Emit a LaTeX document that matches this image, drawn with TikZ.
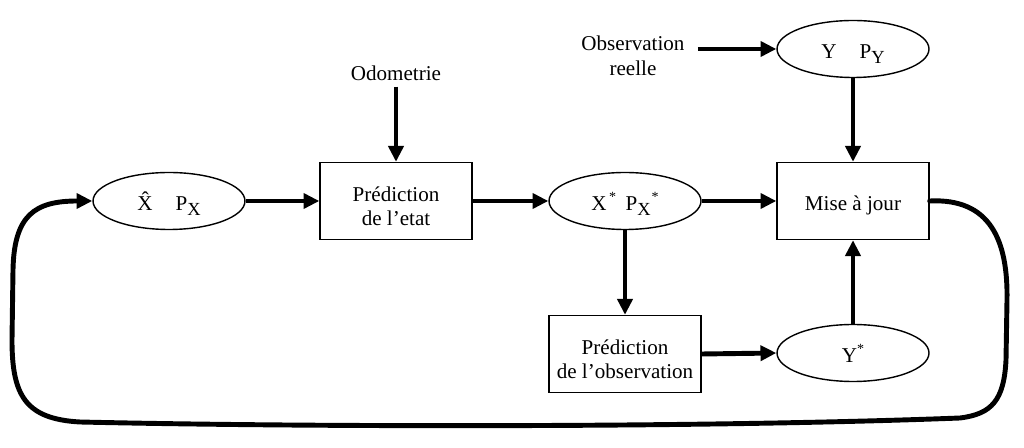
\documentclass[tikz,border=0pt]{standalone}
\usepackage{fontspec}
\setmainfont{Liberation Serif}
\usetikzlibrary{shapes.geometric,arrows.meta}
\newcommand\lowsub[1]{\raisebox{-0.55ex}{\fontsize{10.5}{10}\selectfont #1}}
\newcommand\hisup[1]{\raisebox{0.9ex}{\fontsize{8}{8}\selectfont #1}}
\begin{document}
\begin{tikzpicture}[x=0.02cm,y=-0.02cm,
  font=\fontsize{12}{14}\selectfont,
  ell/.style={draw, line width=0.8pt, ellipse, minimum width=3.04cm, minimum height=1.14cm, inner sep=0pt, text height=11pt, text depth=0pt},
  box/.style={draw, line width=0.8pt, rectangle, minimum width=3.04cm, minimum height=1.54cm, align=center, inner sep=0pt},
  twoline/.style={text height=28.4pt, text depth=0pt},
  oneline/.style={text height=11pt, text depth=0pt},
  arr/.style={line width=2.8pt, -{Triangle[length=9pt,width=8.5pt]}},
  loop/.style={line width=2.8pt, line cap=round, line join=round, -{Triangle[length=9pt,width=8.5pt]}}]
\useasboundingbox (0,0) rectangle (1024,448);

\node[ell] (xh) at (169,201) {\^{X}\hspace{1.1em}P\lowsub{X}};
\node[box, twoline] (pe) at (396,201) {Prédiction\\de l’etat};
\node[ell] (xs) at (625,201) {X\hspace{0.12em}\hisup{*}\hspace{0.45em}P\lowsub{X}\hspace{0.05em}\hisup{*}};
\node[box, oneline] (mj) at (853,201) {Mise à jour};
\node[ell] (y) at (853,49) {Y\hspace{1.1em}P\lowsub{Y}};
\node[box, twoline] (po) at (625,354) {Prédiction\\de l’observation};
\node[ell] (ys) at (853,353) {Y\hisup{*}};
\node (odo) at (396,73) {Odometrie};
\node[align=center] (obs) at (633,56) {Observation\\reelle};

\draw[arr] (odo.south) -- (pe.north);
\draw[arr] ([xshift=4pt]obs.east |- y.west) -- (y.west);
\draw[arr] (xh.east) -- (pe.west);
\draw[arr] (pe.east) -- (xs.west);
\draw[arr] (xs.east) -- (mj.west);
\draw[arr] (y.south) -- (mj.north);
\draw[arr] (xs.south) -- (po.north);
\draw[arr] (po.east) -- (ys.west);
\draw[arr] (ys.north) -- (mj.south);

\draw[loop] (mj.east) .. controls (990,198) and (1008,240) .. (1007,300)
  -- (1006,360) .. controls (1004,400) and (992,414) .. (960,418)
  .. controls (700,428) and (300,427) .. (80,422)
  .. controls (25,419) and (12,395) .. (12,340)
  -- (13,270) .. controls (14,215) and (35,201) .. (xh.west);
\end{tikzpicture}
\end{document}
